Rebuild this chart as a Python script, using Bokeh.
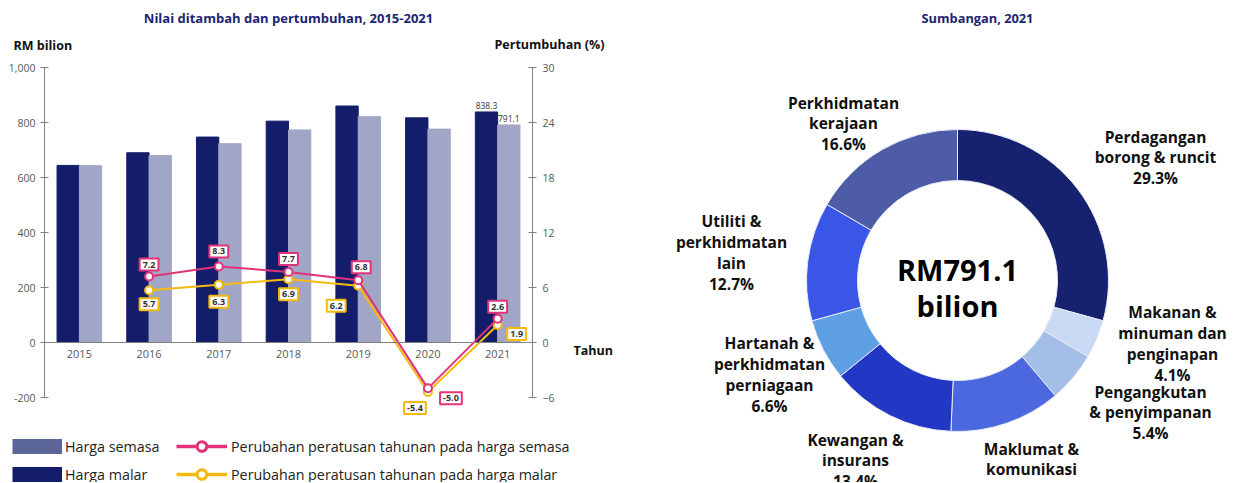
import math
from bokeh.plotting import figure
from bokeh.layouts import row
from bokeh.models import (Range1d, LinearAxis, FixedTicker, NumeralTickFormatter,
                          ColumnDataSource, Label, Legend, LegendItem)
from bokeh.transform import dodge
from bokeh.core.properties import value
from bokeh.embed import file_html
from bokeh.resources import INLINE

# ---------------- data ----------------
years = [2015, 2016, 2017, 2018, 2019, 2020, 2021]
harga_semasa = [644, 690, 747, 805, 860, 817, 838.3]
harga_malar = [643, 680, 723, 773, 821, 776, 791.1]
growth_years = [2016, 2017, 2018, 2019, 2020, 2021]
growth_semasa = [7.2, 8.3, 7.7, 6.8, -5.0, 2.6]
growth_malar = [5.7, 6.3, 6.9, 6.2, -5.4, 1.9]
left_ticks = [-200, 0, 200, 400, 600, 800, 1000]
right_ticks = [-6, 0, 6, 12, 18, 24, 30]

sectors = ["Perdagangan\nborong & runcit", "Makanan &\nminuman dan\npenginapan",
           "Pengangkutan\n& penyimpanan", "Maklumat &\nkomunikasi", "Kewangan &\ninsurans",
           "Hartanah &\nperkhidmatan\nperniagaan", "Utiliti &\nperkhidmatan\nlain",
           "Perkhidmatan\nkerajaan"]
shares = [29.3, 4.1, 5.4, 11.9, 13.4, 6.6, 12.7, 16.6]
total_2021 = 791.1

# ---------------- style / layout ----------------
FONT = "Open Sans"
DARK = "#131d69"
LIGHT = "#a2a6c6"
LEG_SLATE = "#5c6699"
PINK = "#e2337a"
GOLD = "#f6b90e"
AXIS = "#808080"
TICKTXT = "#595959"
NAVY_T = "#1b2573"
BAR_W = 0.32
NAN = float("nan")

# growth label nudges (screen px, +y = down)
sem_dx = [0, 0, 0, 3, 23, 0]
sem_dy = [-12, -15, -13, -13, 10, -12]
mal_dx = [0, 0, 0, -22, -13, 19]
mal_dy = [14, 17, 15, 20, 16, 9]

# ---------------- left chart ----------------
W, H = 628, 482
PL, PR, PT, PB = 44, W - 532, 67, H - 397     # plotting-area insets inside the canvas
X0, X1 = -0.5, 6.5
Y0, Y1 = left_ticks[0], left_ticks[-1]
G0, G1 = right_ticks[0], right_ticks[-1]
ux = (W - PL - PR) / (X1 - X0)
uy = (H - PT - PB) / (Y1 - Y0)
ug = (H - PT - PB) / (G1 - G0)

p = figure(width=W, height=H,
           x_range=Range1d(X0 - PL / ux, X1 + PR / ux),
           y_range=Range1d(Y0 - PB / uy, Y1 + PT / uy),
           x_axis_type=None, y_axis_type=None, output_backend="svg", toolbar_location=None,
           min_border_left=0, min_border_right=0, min_border_top=0, min_border_bottom=0)
p.outline_line_color = None
p.extra_y_ranges = {"pct": Range1d(G0 - PB / ug, G1 + PT / ug)}


def style_axis(ax):
    ax.axis_line_color = AXIS
    ax.major_tick_line_color = AXIS
    ax.minor_tick_line_color = None
    ax.major_label_text_font = FONT
    ax.major_label_text_font_size = "10.5px"
    ax.major_label_text_color = TICKTXT


yl = LinearAxis(ticker=FixedTicker(ticks=left_ticks), formatter=NumeralTickFormatter(format="0,0"),
                major_tick_in=4, major_tick_out=4, major_label_standoff=5,
                fixed_location=X0, bounds=(Y0, Y1))
style_axis(yl)
p.add_layout(yl, "left")
yr = LinearAxis(y_range_name="pct", ticker=FixedTicker(ticks=right_ticks),
                major_tick_in=4, major_tick_out=4, major_label_standoff=6,
                fixed_location=X1, bounds=(G0, G1))
style_axis(yr)
p.add_layout(yr, "right")
xi = list(range(len(years)))
xa = LinearAxis(ticker=FixedTicker(ticks=xi),
                major_label_overrides={i: str(y) for i, y in zip(xi, years)},
                fixed_location=0, bounds=(X0, X1), major_tick_in=0, major_tick_out=0,
                major_label_standoff=7)
style_axis(xa)
xa.major_label_text_font_size = "11px"
p.add_layout(xa, "below")

bsrc = ColumnDataSource(dict(x=xi, semasa=harga_semasa, malar=harga_malar))
p.vbar(x=dodge("x", -BAR_W / 2), top="semasa", bottom=0, width=BAR_W, source=bsrc,
       fill_color=DARK, line_color=DARK)
p.vbar(x=dodge("x", BAR_W / 2), top="malar", bottom=0, width=BAR_W, source=bsrc,
       fill_color=LIGHT, line_color=LIGHT)

# value labels on the last pair of bars
lsrc = ColumnDataSource(dict(x=[xi[-1]], s=[harga_semasa[-1]], m=[harga_malar[-1]],
                             st=[f"{harga_semasa[-1]:.1f}"], mt=[f"{harga_malar[-1]:.1f}"]))
for col, txt, off in (("s", "st", -BAR_W / 2), ("m", "mt", BAR_W / 2)):
    p.text(x=dodge("x", off), y=col, text=txt, source=lsrc, text_align="center",
           text_baseline="bottom", y_offset=-3, text_font=value(FONT), text_font_size="8.5px",
           text_color="#333333")

gx = [years.index(y) for y in growth_years]
gsrc = ColumnDataSource(dict(x=gx, gs=growth_semasa, gm=growth_malar,
                             ts=[f"{v:.1f}" for v in growth_semasa],
                             tm=[f"{v:.1f}" for v in growth_malar],
                             sdx=sem_dx, sdy=sem_dy, mdx=mal_dx, mdy=mal_dy))
p.line("x", "gm", source=gsrc, y_range_name="pct", line_color=GOLD, line_width=2)
p.scatter("x", "gm", source=gsrc, y_range_name="pct", size=8, marker="circle",
          fill_color="white", line_color=GOLD, line_width=2)
p.line("x", "gs", source=gsrc, y_range_name="pct", line_color=PINK, line_width=2)
p.scatter("x", "gs", source=gsrc, y_range_name="pct", size=8, marker="circle",
          fill_color="white", line_color=PINK, line_width=2)

for ycol, tcol, dxc, dyc, colr in (("gs", "ts", "sdx", "sdy", PINK), ("gm", "tm", "mdx", "mdy", GOLD)):
    p.text(x="x", y=ycol, text=tcol, source=gsrc, y_range_name="pct", x_offset=dxc, y_offset=dyc,
           text_align="center", text_baseline="middle", text_font=value(FONT),
           text_font_size="9px", text_font_style="bold", text_color="#333333",
           background_fill_color="white", border_line_color=colr, border_line_width=2, padding=3)


def lab(text, x, y, xo, yo, size, align="left", color="#111111", style="bold"):
    return Label(x=x, y=y, x_offset=xo, y_offset=yo, text=text, text_font=FONT,
                 text_font_size=size, text_font_style=style, text_color=color,
                 text_align=align, text_baseline="middle")


p.add_layout(lab("Nilai ditambah dan pertumbuhan, 2015-2021", (X0 + X1) / 2, Y1, 0, 50, "13px",
                 align="center", color=NAVY_T))
p.add_layout(lab("RM bilion", X0, Y1, -31, 22, "12.5px"))
p.add_layout(lab("Pertumbuhan (%)", X1, Y1, -38, 23, "12.5px"))
p.add_layout(lab("Tahun", X1, 0, 41, -8, "12.5px"))

# legend (off-screen dummy renderers for the swatches)
d1 = p.line(x=[NAN, NAN], y=[NAN, NAN], line_color=LEG_SLATE, line_width=15, line_cap="butt")
d2 = p.line(x=[NAN, NAN], y=[NAN, NAN], line_color=DARK, line_width=15, line_cap="butt")
d3l = p.line(x=[NAN, NAN], y=[NAN, NAN], line_color=PINK, line_width=3.5)
d3s = p.scatter(x=[NAN], y=[NAN], marker="circle", fill_color="white", line_color=PINK, line_width=3)
d4l = p.line(x=[NAN, NAN], y=[NAN, NAN], line_color=GOLD, line_width=3.5)
d4s = p.scatter(x=[NAN], y=[NAN], marker="circle", fill_color="white", line_color=GOLD, line_width=3)

common = dict(orientation="vertical", glyph_height=24, label_height=16, spacing=4, padding=0,
              margin=0, border_line_color=None, background_fill_alpha=0,
              label_text_font=FONT, label_text_font_size="14.3px", label_text_color="#222222")
leg1 = Legend(items=[LegendItem(label="Harga semasa", renderers=[d1]),
                     LegendItem(label="Harga malar", renderers=[d2])],
              location=(12, -4), glyph_width=50, label_standoff=3, **common)
leg2 = Legend(items=[LegendItem(label="Perubahan peratusan tahunan pada harga semasa", renderers=[d3l, d3s]),
                     LegendItem(label="Perubahan peratusan tahunan pada harga malar", renderers=[d4l, d4s])],
              location=(176, -4), glyph_width=51, label_standoff=4, **common)
p.add_layout(leg1, "center")
p.add_layout(leg2, "center")

# ---------------- right chart (donut) ----------------
R_IN, R_OUT = 100, 151
QW = 606
CX, CY = 329, 280                      # donut centre inside the right canvas (px)
q = figure(width=QW, height=H, x_range=Range1d(-CX, QW - CX), y_range=Range1d(CY - H, CY),
           x_axis_type=None, y_axis_type=None, output_backend="svg", toolbar_location=None,
           min_border_left=0, min_border_right=0, min_border_top=0, min_border_bottom=0)
q.outline_line_color = None

colors = ["#16226f", "#c8d9f3", "#a3bfe7", "#4c68df", "#2337c5", "#5ea0e3", "#3a56e7", "#4e5ba6"]
tot = sum(shares)
starts, ends, acc = [], [], 0.0
for s in shares:
    starts.append(math.pi / 2 - 2 * math.pi * acc / tot)
    acc += s
    ends.append(math.pi / 2 - 2 * math.pi * acc / tot)
q.annular_wedge(x=0, y=0, inner_radius=R_IN, outer_radius=R_OUT, start_angle=starts,
                end_angle=ends, direction="clock", fill_color=colors, line_color="#e8ebf5",
                line_width=1)

label_pos = [(198, 123), (215, -63), (193, -132), (74, -189), (-102, -180), (-188, -94),
             (-226, 28), (-114, 157)]
q.text(x=[lp[0] for lp in label_pos], y=[lp[1] for lp in label_pos],
       text=[f"{n}\n{s}%" for n, s in zip(sectors, shares)], text_align="center",
       text_baseline="middle", text_font=value(FONT), text_font_size="15.5px",
       text_font_style="bold", text_color="#111111", text_line_height=0.95)
q.text(x=[0], y=[0], text=[f"RM{total_2021}\nbilion"], y_offset=7, text_align="center",
       text_baseline="middle", text_font=value(FONT), text_font_size="29px",
       text_font_style="bold", text_color="#000000", text_line_height=0.9)
q.text(x=[20], y=[263], text=["Sumbangan, 2021"], text_align="center", text_baseline="middle",
       text_font=value(FONT), text_font_size="12.8px", text_font_style="bold", text_color=NAVY_T)

layout = row(p, q)
open("out.html", "w").write(file_html(layout, INLINE))
